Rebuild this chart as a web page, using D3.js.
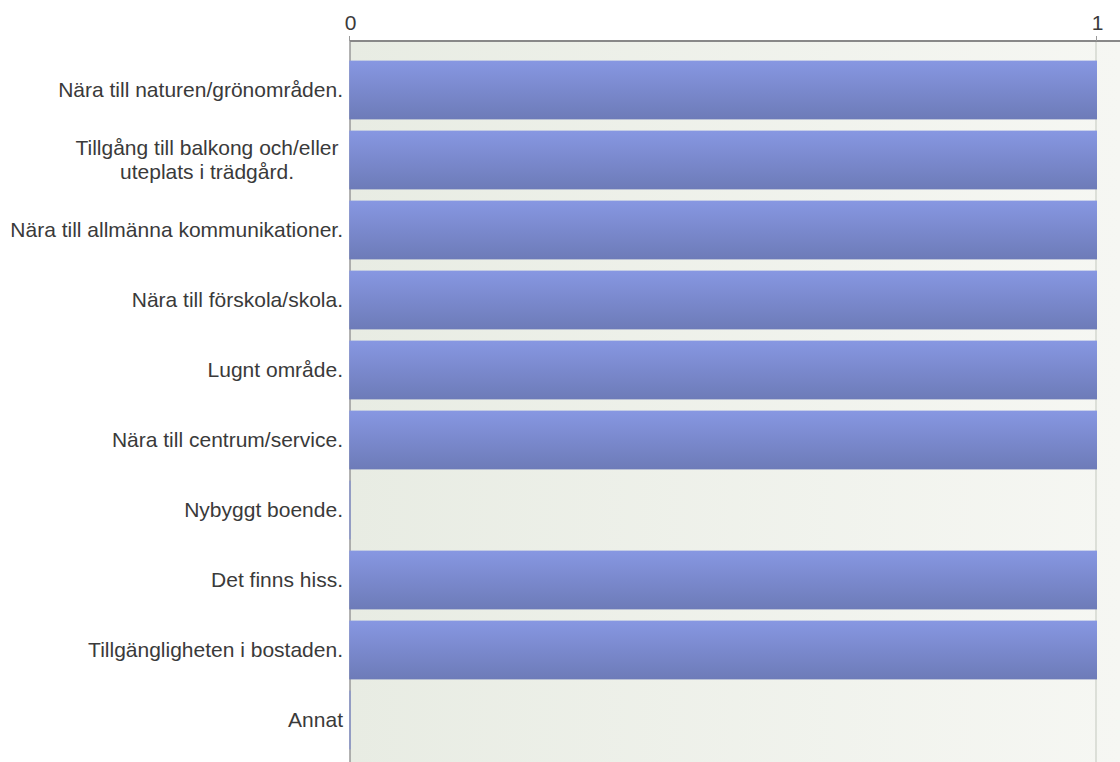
<!DOCTYPE html>
<html><head><meta charset="utf-8">
<script src="https://cdn.jsdelivr.net/npm/d3@7"></script>
<style>body{margin:0;background:#fff}svg{display:block}</style>
</head><body>
<svg id="c" width="1120" height="762"></svg>
<script>
const categories = [
  ["Nära till naturen/grönområden."],
  ["Tillgång till balkong och/eller", "uteplats i trädgård."],
  ["Nära till allmänna kommunikationer."],
  ["Nära till förskola/skola."],
  ["Lugnt område."],
  ["Nära till centrum/service."],
  ["Nybyggt boende."],
  ["Det finns hiss."],
  ["Tillgängligheten i bostaden."],
  ["Annat"]
];
const values = [1, 1, 1, 1, 1, 1, 0, 1, 1, 0];
const tickValues = [0, 1];

const svg = d3.select("#c");
const W = 1120, H = 762;
const left = 350, axisY = 41;
const FONT = "Liberation Sans, Arial, Helvetica, sans-serif";
const x = d3.scaleLinear().domain([0, 1]).range([left, 1097]);
const y = d3.scaleBand().domain(d3.range(categories.length)).range([55, 755]).paddingInner(0.16).paddingOuter(0.08);

const defs = svg.append("defs");
const bg = defs.append("linearGradient").attr("id", "bg").attr("x1", 0).attr("x2", 1).attr("y1", 0).attr("y2", 0);
bg.append("stop").attr("offset", 0).attr("stop-color", "#e8ece3");
bg.append("stop").attr("offset", 1).attr("stop-color", "#f6f7f3");
const bar = defs.append("linearGradient").attr("id", "bar").attr("x1", 0).attr("x2", 0).attr("y1", 0).attr("y2", 1);
bar.append("stop").attr("offset", 0).attr("stop-color", "#8797e2");
bar.append("stop").attr("offset", 1).attr("stop-color", "#6d7bb8");

svg.append("rect").attr("x", left).attr("y", axisY).attr("width", W - left).attr("height", H - axisY).attr("fill", "url(#bg)");

// gridlines
svg.selectAll(".grid").data(tickValues.filter(d => d > 0)).enter().append("line")
  .attr("x1", d => x(d) - 1).attr("x2", d => x(d) - 1).attr("y1", axisY).attr("y2", H)
  .attr("stroke", "#dcdfd8").attr("stroke-width", 2);

// left axis line
svg.append("line").attr("x1", left).attr("x2", left).attr("y1", axisY).attr("y2", H).attr("stroke", "#999").attr("stroke-width", 1.5);

// bars
svg.selectAll(".bar").data(values).enter().append("rect")
  .attr("x", x(0) - 0.75)
  .attr("y", (d, i) => y(i))
  .attr("width", d => Math.max(1.5, x(d) - x(0) + 0.75))
  .attr("height", y.bandwidth())
  .attr("fill", d => d > 0 ? "url(#bar)" : "#8a96cc");

// axis
const axis = d3.axisTop(x).tickValues(tickValues).tickFormat(d3.format("d")).tickSize(5).tickPadding(6);
const ag = svg.append("g").attr("transform", `translate(0,${axisY})`).call(axis);
ag.select(".domain").attr("stroke", "#888").attr("stroke-width", 2).attr("d", `M${left},0H${W}`);
ag.selectAll(".tick line").attr("stroke", "#999").attr("transform", "translate(-1,0)");
ag.selectAll(".tick text").attr("font-family", FONT).attr("font-size", 21).attr("fill", "#3a3a3a");

// labels
const lg = svg.append("g").attr("font-family", FONT).attr("font-size", 21).attr("fill", "#3a3a3a");
categories.forEach((lines, i) => {
  const cy = y(i) + y.bandwidth() / 2;
  if (lines.length === 1) {
    lg.append("text").attr("x", 343).attr("y", cy).attr("dy", "0.35em").attr("text-anchor", "end").text(lines[0]);
  } else {
    lines.forEach((t, j) => {
      lg.append("text").attr("x", 207).attr("y", cy + (j - (lines.length - 1) / 2) * 24)
        .attr("dy", "0.35em").attr("text-anchor", "middle").text(t);
    });
  }
});
</script>
</body></html>
